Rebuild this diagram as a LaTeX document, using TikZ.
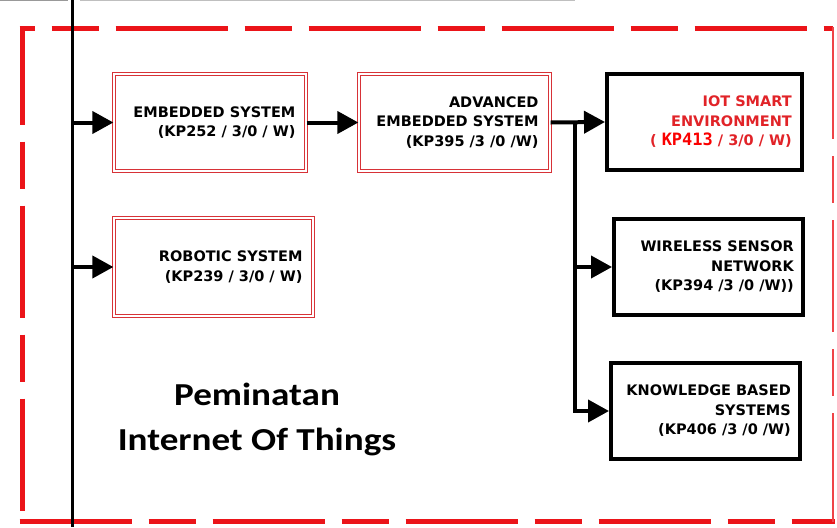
\documentclass[tikz,border=0pt]{standalone}
\usepackage{fontspec}
\setmainfont{DejaVu Sans}
\newfontfamily\titlefont[FakeStretch=1.16]{Carlito}
\newfontfamily\kpfont{DejaVu Sans Mono}
\usetikzlibrary{arrows.meta}
\definecolor{dashred}{RGB}{235,20,25}
\definecolor{boxred}{RGB}{215,50,55}
\definecolor{txtred}{RGB}{225,35,40}
\definecolor{kpred}{RGB}{250,0,0}
\begin{document}
\begin{tikzpicture}[x=1pt,y=-1pt,
  redbox/.style={draw=boxred, double=white, double distance=1.8pt, line width=1.3pt, inner sep=0pt},
  blackbox/.style={draw=black, line width=4pt, inner sep=0pt},
  lbl/.style={anchor=east, align=right, inner sep=0pt, font=\fontsize{14.5}{19.5}\selectfont\bfseries},
  conn/.style={line width=4pt, -{Triangle[length=21pt,width=22pt]}},
  frame/.style={draw=dashred, line width=5pt, dash pattern=on 112pt off 17pt on 47pt off 17pt},
  ttl/.style={anchor=base, inner sep=0pt, font=\titlefont\bfseries\fontsize{32}{40}\selectfont}]
\useasboundingbox[fill=white] (0,0) rectangle (837,527);

% frame fragments at the top
\draw[gray!80, line width=1.2pt] (0,0.6) -- (68,0.6);
\draw[gray!50, line width=1.2pt] (80,0.6) -- (575,0.6);

% red dashed border
\draw[frame, dash phase=97pt] (19.5,29) -- (833,29);
\draw[frame, dash phase=14pt] (22,26.5) -- (22,523.5);
\draw[frame] (19.5,521) -- (835,521);
\draw[frame, line width=2.5pt, draw=dashred!80] (833,27) -- (833,522);

% boxes
\node[redbox, minimum width=192pt, minimum height=97pt] (es) at (210,122.5) {};
\node[redbox, minimum width=191pt, minimum height=97pt] (aes) at (454.5,122.5) {};
\node[blackbox, minimum width=195pt, minimum height=96pt] (iot) at (704.5,122) {};
\node[redbox, minimum width=199pt, minimum height=98pt] (rob) at (213.5,267) {};
\node[blackbox, minimum width=189pt, minimum height=96pt] (wsn) at (708.5,267) {};
\node[blackbox, minimum width=189pt, minimum height=96pt] (kbs) at (705.5,411) {};

% labels
\node[lbl] (es-t) at ([xshift=-11pt]es.east) {EMBEDDED SYSTEM\\(KP252 / 3/0 / W)};
\node[lbl] (aes-t) at ([xshift=-12pt]aes.east) {ADVANCED\\EMBEDDED SYSTEM\\(KP395 /3 /0 /W)};
\node[lbl, text=txtred] (iot-t) at ([xshift=-12pt]iot.east) {IOT SMART\\ENVIRONMENT\\( {\kpfont\fontsize{17}{19.5}\selectfont\color{kpred}KP413} / 3/0 / W)};
\node[lbl] (rob-t) at ([xshift=-11pt]rob.east) {ROBOTIC SYSTEM\\(KP239 / 3/0 / W)};
\node[lbl] (wsn-t) at ([xshift=-11pt]wsn.east) {WIRELESS SENSOR\\NETWORK\\(KP394 /3 /0 /W))};
\node[lbl] (kbs-t) at ([xshift=-11pt]kbs.east) {KNOWLEDGE BASED\\SYSTEMS\\(KP406 /3 /0 /W)};

% title
\node[ttl] (t1) at (257,405) {Peminatan};
\node[ttl] (t2) at (257,450) {Internet Of Things};

% vertical line and connectors
\coordinate (vtop) at (72,0);
\coordinate (vbot) at (72,527);
\coordinate (v1) at (72,122.5);
\coordinate (v2) at (72,267);
\draw[line width=3pt] (vtop) -- (vbot);
\draw[conn] (v1) -- (es.west);
\draw[conn] (v2) -- (rob.west);
\draw[conn] (es.east) -- (aes.west);
\coordinate (j1) at (575,122.5);
\coordinate (j2) at (575,267);
\draw[conn] (aes.east) -- (iot.west);
\draw[conn] (j1) |- (kbs.west);
\draw[conn] (j2) -- (wsn.west);
\end{tikzpicture}
\end{document}
